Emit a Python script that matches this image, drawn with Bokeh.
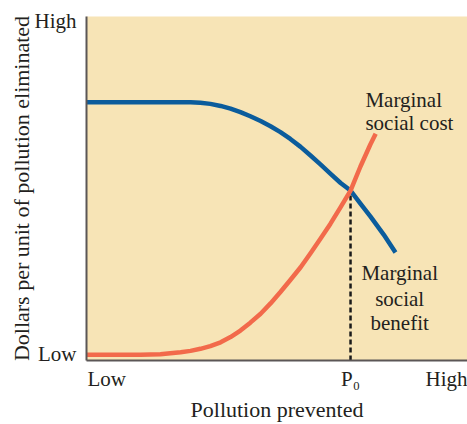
from bokeh.plotting import figure
from bokeh.models import FixedTicker, ColumnDataSource
from bokeh.core.properties import value
from bokeh.embed import file_html
from bokeh.resources import INLINE

# ---- data (axis units 0..100) ----
benefit_x = [0, 26.0, 27.3, 29.9, 32.5, 35.2, 37.8, 40.4, 43.0, 45.7, 48.3, 50.9,
             53.5, 56.2, 58.8, 61.4, 64.0, 66.7, 69.3, 71.9, 74.5, 78.0, 81.1]
benefit_y = [75.1, 75.1, 75.1, 74.9, 74.6, 74.0, 73.2, 72.2, 71.0, 69.6, 68.1, 66.4,
             64.4, 62.1, 59.6, 57.0, 54.3, 51.6, 49.4, 45.6, 41.9, 36.6, 31.4]

cost_x = [0, 14.2, 19.4, 22.0, 24.7, 27.3, 29.9, 32.5, 35.2, 37.8, 40.4, 43.0, 45.7,
          48.3, 50.9, 53.5, 56.2, 58.8, 61.4, 64.0, 66.7, 69.3, 71.9, 74.5, 75.9]
cost_y = [1.7, 1.7, 1.8, 2.1, 2.4, 2.8, 3.4, 4.2, 5.3, 6.8, 8.7, 11.0, 13.6,
          16.6, 19.9, 23.4, 27.1, 31.2, 35.4, 39.7, 44.6, 49.4, 56.4, 62.8, 65.9]

p0_x = 69.3
p0_y = 49.4

x_tick_pos = [5.3, 69.3, 94.6]
x_tick_labels = ["Low", "P\u2080", "High"]
y_tick_pos = [98.6, 1.8]
y_tick_labels = ["High", "Low"]

x_title = "Pollution prevented"
y_title = "Dollars per unit of pollution eliminated"
cost_label_lines = ["Marginal", "social cost"]
benefit_label_lines = ["Marginal", "social", "benefit"]

# ---- styles ----
FONT = "Liberation Serif"
FS = "21px"
FS_TITLE = "22px"
TXT = "#231f20"
BEIGE = "#f7e4b6"
BLUE = "#0b5c9c"
RED = "#f26a4b"
AXIS = "#5b5656"

p = figure(width=467, height=424, x_range=(0, 100), y_range=(0, 100),
           output_backend="svg", toolbar_location=None,
           min_border_left=86, min_border_right=0, min_border_top=16, min_border_bottom=64)
p.background_fill_color = BEIGE
p.border_fill_color = "white"
p.outline_line_color = None
p.grid.visible = False

for ax in (p.xaxis[0], p.yaxis[0]):
    ax.axis_line_color = AXIS
    ax.axis_line_width = 2
    ax.major_tick_line_color = None
    ax.minor_tick_line_color = None
    ax.major_label_text_font = FONT
    ax.major_label_text_font_size = FS
    ax.major_label_text_color = TXT
    ax.axis_label_text_font = FONT
    ax.axis_label_text_font_size = FS_TITLE
    ax.axis_label_text_font_style = "normal"
    ax.axis_label_text_color = TXT

p.xaxis.ticker = FixedTicker(ticks=x_tick_pos)
p.xaxis.major_label_overrides = {t: l for t, l in zip(x_tick_pos, x_tick_labels)}
p.yaxis.ticker = FixedTicker(ticks=y_tick_pos)
p.yaxis.major_label_overrides = {t: l for t, l in zip(y_tick_pos, y_tick_labels)}
p.xaxis.major_label_standoff = 0
p.yaxis.major_label_standoff = 4
p.xaxis.axis_label = x_title
p.yaxis.axis_label = y_title
p.xaxis.axis_label_standoff = 3
p.yaxis.axis_label_standoff = -2

# dashed line at P0
p.line(x=[p0_x, p0_x], y=[0, p0_y], line_color="#1a1a1a", line_width=2.5, line_dash="5 3")

p.line(x=benefit_x, y=benefit_y, line_color=BLUE, line_width=4.5, line_join="round", line_cap="butt")
p.line(x=cost_x, y=cost_y, line_color=RED, line_width=4.5, line_join="round", line_cap="butt")

# curve labels
cost_src = ColumnDataSource(dict(x=[73.2, 73.2], y=[75.7, 68.9], t=cost_label_lines))
p.text(x="x", y="y", text="t", source=cost_src, text_font=value(FONT), text_font_size=FS,
       text_color=TXT, text_align="left", text_baseline="alphabetic")
ben_src = ColumnDataSource(dict(x=[82.2, 82.2, 82.2], y=[25.3, 18.0, 11.0], t=benefit_label_lines))
p.text(x="x", y="y", text="t", source=ben_src, text_font=value(FONT), text_font_size=FS,
       text_color=TXT, text_align="center", text_baseline="alphabetic")

open("out.html", "w").write(file_html(p, INLINE))
